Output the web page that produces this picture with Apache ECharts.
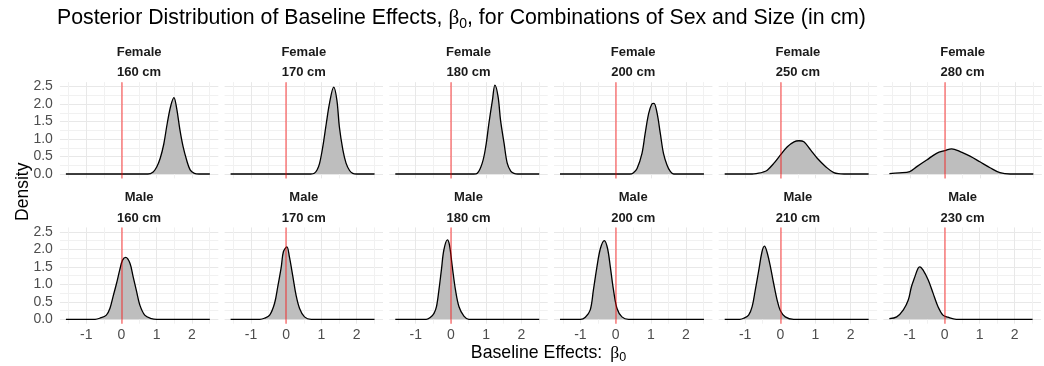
<!DOCTYPE html>
<html>
<head>
<meta charset="utf-8">
<script src="https://cdn.jsdelivr.net/npm/echarts@6/dist/echarts.min.js"></script>
<style>
  html, body { margin: 0; padding: 0; background: #fff; }
  #chart { width: 1044px; height: 366px; }
</style>
</head>
<body>
<div id="chart"></div>
<script>
// panel labels (facet strips)
var panelSex = ['Female', 'Female', 'Female', 'Female', 'Female', 'Female',
                'Male', 'Male', 'Male', 'Male', 'Male', 'Male'];
var panelSize = ['160 cm', '170 cm', '180 cm', '200 cm', '250 cm', '280 cm',
                 '160 cm', '170 cm', '180 cm', '200 cm', '210 cm', '230 cm'];

// density curves: [beta0, density]
var female160 = [[-1.58,0],[0.75,0],[0.9,0.06],[1.0,0.2],[1.1,0.45],[1.2,0.85],[1.3,1.45],[1.4,1.95],[1.49,2.18],[1.56,1.92],[1.66,1.26],[1.75,0.78],[1.85,0.4],[1.95,0.12],[2.07,0.02],[2.2,0],[2.51,0]];
var female170 = [[-1.58,0],[0.7,0],[0.8,0.02],[0.88,0.12],[0.95,0.31],[1.04,0.78],[1.14,1.45],[1.23,2.02],[1.35,2.48],[1.44,2.11],[1.51,1.35],[1.61,0.69],[1.7,0.31],[1.8,0.1],[1.89,0.02],[2.0,0],[2.51,0]];
var female180 = [[-1.58,0],[0.65,0],[0.75,0.02],[0.89,0.31],[0.99,0.78],[1.08,1.45],[1.18,2.11],[1.25,2.54],[1.34,2.21],[1.41,1.54],[1.51,0.88],[1.6,0.31],[1.7,0.08],[1.79,0.02],[1.9,0],[2.51,0]];
var female200 = [[-1.58,0],[0.4,0],[0.5,0.03],[0.61,0.16],[0.75,0.59],[0.84,1.16],[0.94,1.73],[1.03,2.0],[1.09,2.02],[1.18,1.73],[1.27,1.16],[1.36,0.59],[1.46,0.26],[1.55,0.08],[1.65,0],[2.51,0]];
var female250 = [[-1.58,0],[-0.8,0],[-0.65,0.02],[-0.5,0.05],[-0.37,0.11],[-0.18,0.31],[0,0.54],[0.2,0.78],[0.39,0.92],[0.53,0.95],[0.67,0.92],[0.86,0.69],[1.05,0.45],[1.29,0.21],[1.52,0.04],[1.81,0],[2.51,0]];
var female280 = [[-1.58,0.01],[-1.3,0.03],[-1.0,0.07],[-0.8,0.21],[-0.52,0.4],[-0.24,0.59],[0,0.67],[0.19,0.72],[0.43,0.64],[0.71,0.51],[0.99,0.35],[1.28,0.18],[1.56,0.04],[1.85,0],[2.51,0]];
var male160 = [[-1.58,0],[-0.75,0],[-0.62,0.03],[-0.43,0.12],[-0.33,0.31],[-0.24,0.65],[-0.14,1.03],[-0.05,1.41],[0.03,1.69],[0.12,1.77],[0.24,1.6],[0.33,1.22],[0.43,0.79],[0.52,0.41],[0.66,0.12],[0.85,0.02],[1.0,0],[2.51,0]];
var male170 = [[-1.58,0],[-0.75,0],[-0.62,0.03],[-0.47,0.12],[-0.33,0.46],[-0.24,0.93],[-0.14,1.5],[-0.08,1.93],[0.02,2.07],[0.09,1.79],[0.19,1.22],[0.28,0.69],[0.38,0.31],[0.52,0.07],[0.71,0],[2.51,0]];
var male180 = [[-1.58,0],[-0.7,0],[-0.58,0.06],[-0.48,0.17],[-0.41,0.36],[-0.34,0.84],[-0.27,1.41],[-0.2,1.98],[-0.1,2.27],[-0.04,2.12],[0.04,1.5],[0.13,0.84],[0.23,0.36],[0.37,0.09],[0.51,0],[2.51,0]];
var male200 = [[-1.58,0],[-1.0,0],[-0.86,0.06],[-0.72,0.27],[-0.63,0.84],[-0.53,1.5],[-0.43,2.03],[-0.32,2.25],[-0.23,2.03],[-0.15,1.5],[-0.06,0.84],[0.04,0.31],[0.18,0.07],[0.37,0],[2.51,0]];
var male210 = [[-1.58,0],[-1.15,0],[-1.04,0.03],[-0.9,0.12],[-0.8,0.36],[-0.71,0.84],[-0.61,1.41],[-0.52,1.93],[-0.45,2.09],[-0.38,1.93],[-0.28,1.5],[-0.19,1.03],[-0.09,0.55],[0,0.25],[0.14,0.07],[0.38,0],[2.51,0]];
var male230 = [[-1.58,0.02],[-1.37,0.07],[-1.18,0.27],[-1.04,0.55],[-0.95,0.93],[-0.85,1.22],[-0.76,1.46],[-0.71,1.5],[-0.62,1.41],[-0.47,1.12],[-0.33,0.74],[-0.19,0.36],[-0.05,0.12],[0.09,0.06],[0.33,0],[2.51,0]];

var densities = [female160, female170, female180, female200, female250, female280,
                 male160, male170, male180, male200, male210, male230];

// reference line position
var refLine = 0;

var FONT = 'Liberation Sans, Arial, sans-serif';
var GREEK = 'Liberation Serif, serif';

function buildOption() {
    // layout (pixels)
    var xUnit = 35.2, yUnit = 35;
    var colStep = 164.7;
    var firstLeft = 121.5 - 1.75 * xUnit;
    var gridW = 4.5 * xUnit, gridH = 2.75 * yUnit;
    var rowZero = [174, 319.3];

    var grids = [], xAxes = [], yAxes = [], series = [], graphics = [];

    for (var i = 0; i < densities.length; i++) {
        var row = Math.floor(i / 6), col = i % 6;
        var gLeft = firstLeft + col * colStep;
        var gTop = rowZero[row] - 2.625 * yUnit;
        grids.push({ left: gLeft, top: gTop, width: gridW, height: gridH });
        xAxes.push({
            type: 'value', gridIndex: i, min: -1.75, max: 2.75, interval: 0.25,
            axisLine: { show: false }, axisTick: { show: false },
            axisLabel: {
                show: row === 1, margin: 4, color: '#4d4d4d', fontSize: 14, fontFamily: FONT,
                formatter: function (v) {
                    return Math.abs(v - Math.round(v)) < 1e-6 ? String(Math.round(v)) : '';
                }
            },
            // colours cycle per tick: only whole (major) and half (minor) values get a line
            splitLine: { show: true, lineStyle: { width: 1, color: ['rgba(0,0,0,0)', '#f1f1f1', 'rgba(0,0,0,0)', '#e8e8e8'] } }
        });
        yAxes.push({
            type: 'value', gridIndex: i, min: -0.125, max: 2.625, interval: 0.125,
            axisLine: { show: false }, axisTick: { show: false },
            axisLabel: {
                show: col === 0, margin: 7, color: '#4d4d4d', fontSize: 14, fontFamily: FONT,
                formatter: function (v) {
                    return Math.abs(v * 2 - Math.round(v * 2)) < 1e-6 ? v.toFixed(1) : '';
                }
            },
            splitLine: { show: true, lineStyle: { width: 1, color: ['rgba(0,0,0,0)', '#e8e8e8', 'rgba(0,0,0,0)', '#f1f1f1'] } }
        });
        series.push({
            type: 'line', xAxisIndex: i, yAxisIndex: i,
            data: densities[i],
            showSymbol: false, smooth: 0.35,
            lineStyle: { color: '#000', width: 1.3 },
            areaStyle: { color: '#bebebe', opacity: 1 },
            emphasis: { disabled: true },
            markLine: {
                silent: true, symbol: 'none', animation: false,
                label: { show: false },
                lineStyle: { color: 'rgba(255,0,0,0.5)', width: 1.5, type: 'solid' },
                data: [{ xAxis: refLine }]
            }
        });
        graphics.push({
            type: 'text', x: gLeft + gridW / 2, y: row === 0 ? 62.5 : 207.7,
            style: {
                text: panelSex[i] + '\n' + panelSize[i],
                fontFamily: FONT, fontSize: 13, fontWeight: 'bold', fill: '#1a1a1a',
                lineHeight: 20.8, align: 'center', verticalAlign: 'middle'
            }
        });
    }

    // title
    graphics.push({
        type: 'text', x: 57, y: 18.5,
        style: {
            text: '{t|Posterior Distribution of Baseline Effects, }{b|β}{s|0}{t|, for Combinations of Sex and Size (in cm)}',
            verticalAlign: 'middle', align: 'left',
            rich: {
                t: { fontFamily: FONT, fontSize: 21.3, fill: '#000', lineHeight: 26 },
                b: { fontFamily: GREEK, fontSize: 21.3, fill: '#000', lineHeight: 26 },
                s: { fontFamily: FONT, fontSize: 14, fill: '#000', lineHeight: 14, verticalAlign: 'bottom' }
            }
        }
    });
    // x axis title
    graphics.push({
        type: 'text', x: 548.5, y: 353,
        style: {
            text: '{t|Baseline Effects: }{b|β}{s|0}',
            verticalAlign: 'middle', align: 'center',
            rich: {
                t: { fontFamily: FONT, fontSize: 17.7, fill: '#000', lineHeight: 22 },
                b: { fontFamily: GREEK, fontSize: 17.7, fill: '#000', lineHeight: 22, padding: [0, 0, 0, 3] },
                s: { fontFamily: FONT, fontSize: 12.5, fill: '#000', lineHeight: 12, verticalAlign: 'bottom' }
            }
        }
    });
    // y axis title
    graphics.push({
        type: 'text', x: 22.7, y: 191.7, rotation: Math.PI / 2,
        style: {
            text: 'Density', fontFamily: FONT, fontSize: 17.5, fill: '#000',
            align: 'center', verticalAlign: 'middle'
        }
    });

    return {
        animation: false,
        grid: grids,
        xAxis: xAxes,
        yAxis: yAxes,
        series: series,
        graphic: graphics
    };
}

var chart = echarts.init(document.getElementById('chart'));
chart.setOption(buildOption());
window.addEventListener('resize', function () {
    chart.resize();
});
</script>
</body>
</html>
